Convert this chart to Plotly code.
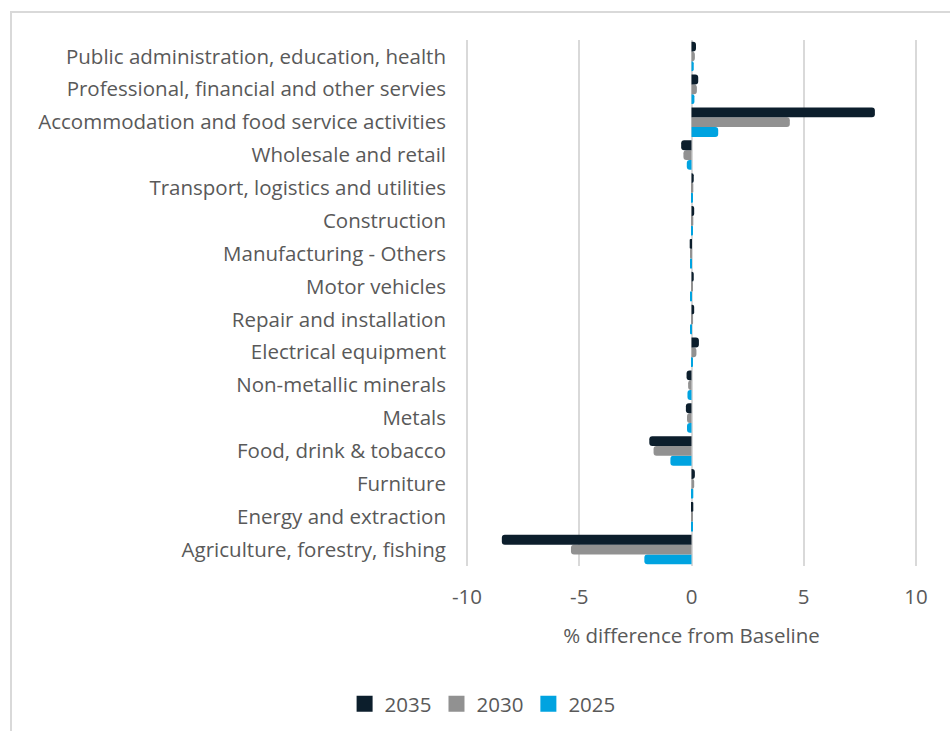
import plotly.graph_objects as go

# Sectors, bottom to top
sectors = [
    "Agriculture, forestry, fishing",
    "Energy and extraction",
    "Furniture",
    "Food, drink & tobacco",
    "Metals",
    "Non-metallic minerals",
    "Electrical equipment",
    "Repair and installation",
    "Motor vehicles",
    "Manufacturing - Others",
    "Construction",
    "Transport, logistics and utilities",
    "Wholesale and retail",
    "Accommodation and food service activities",
    "Professional, financial and other servies",
    "Public administration, education, health",
]

# % difference from Baseline by year
y2035 = [-8.45, 0.08, 0.15, -1.88, -0.25, -0.22, 0.33, 0.12, 0.10, -0.08, 0.12, 0.10, -0.46, 8.17, 0.30, 0.20]
y2030 = [-5.37, 0.05, 0.12, -1.69, -0.20, -0.15, 0.22, 0.07, 0.06, -0.05, 0.08, 0.08, -0.36, 4.38, 0.24, 0.15]
y2025 = [-2.10, 0.04, 0.08, -0.94, -0.20, -0.18, 0.05, -0.05, -0.04, -0.03, 0.05, 0.05, -0.21, 1.19, 0.13, 0.10]

x_ticks = [-10, -5, 0, 5, 10]
x_tick_text = ["-10", "-5", "0", "5", "10"]

series = [
    ("2025", y2025, "#00A3E0"),
    ("2030", y2030, "#919191"),
    ("2035", y2035, "#0C1E2C"),
]

FONT = "'Open Sans', Lato, sans-serif"
TXT = "#595959"
FS = 20.5
W, H = 950, 731
ML, MR, MT, MB = 463, 30, 40, 165

fig = go.Figure()
for name, vals, color in series:
    fig.add_trace(go.Bar(
        name=name, y=sectors, x=vals, orientation="h", showlegend=False,
        marker=dict(color=color, cornerradius=3, line=dict(width=0)),
    ))
# Square legend swatches
for name, vals, color in series:
    fig.add_trace(go.Scatter(
        name=name, x=[None], y=[None], mode="markers",
        marker=dict(symbol="square", size=16, color=color),
    ))

# Outer chart frame in paper coordinates
pw = W - ML - MR
ph = H - MT - MB
def px_x(p):
    return (p - ML) / pw
def px_y(p):
    return 1 - (p - MT) / ph

fig.add_shape(type="rect", xref="paper", yref="paper",
              x0=px_x(11), x1=px_x(975), y0=px_y(12), y1=px_y(760),
              line=dict(color="#D9D9D9", width=2), fillcolor="rgba(0,0,0,0)",
              layer="below")

fig.update_layout(
    width=W, height=H,
    margin=dict(l=ML, r=MR, t=MT, b=MB, autoexpand=False),
    paper_bgcolor="white", plot_bgcolor="white",
    barmode="group", bargap=0.1, bargroupgap=0,
    font=dict(family=FONT, color=TXT, size=FS),
    showlegend=True,
    legend=dict(orientation="h", traceorder="reversed",
                xref="container", yref="container",
                x=0.508, xanchor="center", y=1 - 704 / H, yanchor="middle",
                font=dict(size=FS, color=TXT),
                itemwidth=30, tracegroupgap=0),
    xaxis=dict(range=[-10.18, 10.18], tickvals=x_ticks, ticktext=x_tick_text,
               automargin=False,
               showgrid=True, gridcolor="#D9D9D9", gridwidth=2,
               zeroline=True, zerolinecolor="#D9D9D9", zerolinewidth=2,
               showline=False, ticks="", ticklabelstandoff=16,
               tickfont=dict(size=FS, color=TXT),
               title=dict(text="% difference from Baseline", standoff=20,
                          font=dict(size=FS, color=TXT))),
    yaxis=dict(showgrid=False, zeroline=False, showline=False, ticks="",
               automargin=False,
               ticklabelstandoff=16, tickfont=dict(size=FS, color=TXT),
               range=[-0.5, 15.5]),
)

fig.write_html("out.html")
